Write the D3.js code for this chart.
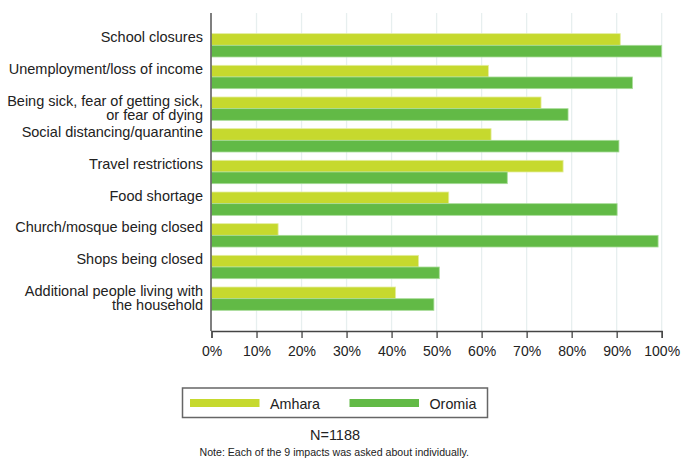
<!DOCTYPE html>
<html><head><meta charset="utf-8">
<script src="https://cdn.jsdelivr.net/npm/d3@7"></script>
<style>body{margin:0;background:#fff}svg{display:block;font-family:"Liberation Sans",Arial,sans-serif}</style>
</head><body><svg id="c" width="681" height="460"></svg>
<script>
const categories = [
  ["School closures"],
  ["Unemployment/loss of income"],
  ["Being sick, fear of getting sick,", "or fear of dying"],
  ["Social distancing/quarantine"],
  ["Travel restrictions"],
  ["Food shortage"],
  ["Church/mosque being closed"],
  ["Shops being closed"],
  ["Additional people living with", "the household"]
];
const amhara = [90.8, 61.5, 73.2, 62.1, 78.1, 52.7, 14.8, 46.0, 40.9];
const oromia = [100.0, 93.5, 79.2, 90.5, 65.7, 90.1, 99.2, 50.6, 49.4];
const seriesNames = ["Amhara", "Oromia"];
const seriesColors = ["#c6d92e", "#62ba46"];
const xTicks = [0,10,20,30,40,50,60,70,80,90,100];

const svg = d3.select("#c");
const x = d3.scaleLinear().domain([0,100]).range([211.5, 661.7]);
const y = d3.scaleBand().domain(d3.range(categories.length)).range([13, 331]).paddingInner(0.263).paddingOuter(0.652);
const sub = d3.scaleBand().domain([0,1]).range([0, y.bandwidth()]);

// gridlines
svg.append("g").selectAll("line").data(xTicks.slice(1)).join("line")
  .attr("x1", d=>x(d)).attr("x2", d=>x(d)).attr("y1", 13).attr("y2", 331)
  .attr("stroke", "#e7efef").attr("stroke-width", 1.3);

// bars
const series = [amhara, oromia];
series.forEach((vals, si) => {
  svg.append("g").selectAll("rect").data(vals).join("rect")
    .attr("x", x(0)).attr("y", (d,i)=>y(i)+sub(si))
    .attr("width", d=>x(d)-x(0)).attr("height", sub.bandwidth())
    .attr("fill", seriesColors[si])
    .attr("stroke", si===0 ? "#e4eda0" : "#a8dc98").attr("stroke-width", 0.8);
});

// left axis line
svg.append("line").attr("x1", 211).attr("x2", 211).attr("y1", 13).attr("y2", 331)
  .attr("stroke", "#555").attr("stroke-width", 1.5);

// x axis
const xa = svg.append("g").attr("transform", "translate(0,331)")
  .call(d3.axisBottom(x).tickValues(xTicks).tickFormat(d=>d+"%").tickSizeOuter(0).tickSize(7).tickPadding(8));
xa.select(".domain").attr("stroke", "#444").attr("stroke-width", 1.3);
xa.selectAll(".tick line").attr("stroke", "#444").attr("stroke-width", 1.3);
xa.selectAll("text").attr("font-size", 14).attr("fill", "#222").attr("font-family", "Liberation Sans, Arial, sans-serif");

// category labels
categories.forEach((lines, i) => {
  const cy = y(i) + y.bandwidth()/2;
  const t = svg.append("text").attr("text-anchor", "end").attr("font-size", 14.5).attr("fill", "#222");
  if (lines.length === 1) {
    t.append("tspan").attr("x", 203).attr("y", cy - 3).text(lines[0]);
  } else {
    t.append("tspan").attr("x", 203).attr("y", cy - 2.3).text(lines[0]);
    t.append("tspan").attr("x", 203).attr("y", cy + 11).text(lines[1]);
  }
});

// legend
svg.append("rect").attr("x", 182.5).attr("y", 388).attr("width", 305).attr("height", 29.5)
  .attr("fill", "#fff").attr("stroke", "#666").attr("stroke-width", 1.5);
const legX = [190, 349.5];
seriesNames.forEach((n, i) => {
  svg.append("rect").attr("x", legX[i]).attr("y", 399).attr("width", 69.5).attr("height", 8)
    .attr("fill", seriesColors[i]);
  svg.append("text").attr("x", legX[i] + 80).attr("y", 408.5).attr("font-size", 14.3).attr("fill", "#222").text(n);
});

svg.append("text").attr("x", 335).attr("y", 440).attr("text-anchor", "middle").attr("font-size", 14.5).attr("fill", "#222").text("N=1188");
svg.append("text").attr("x", 199.5).attr("y", 455.5).attr("font-size", 10.6).attr("fill", "#222").text("Note: Each of the 9 impacts was asked about individually.");
</script></body></html>
